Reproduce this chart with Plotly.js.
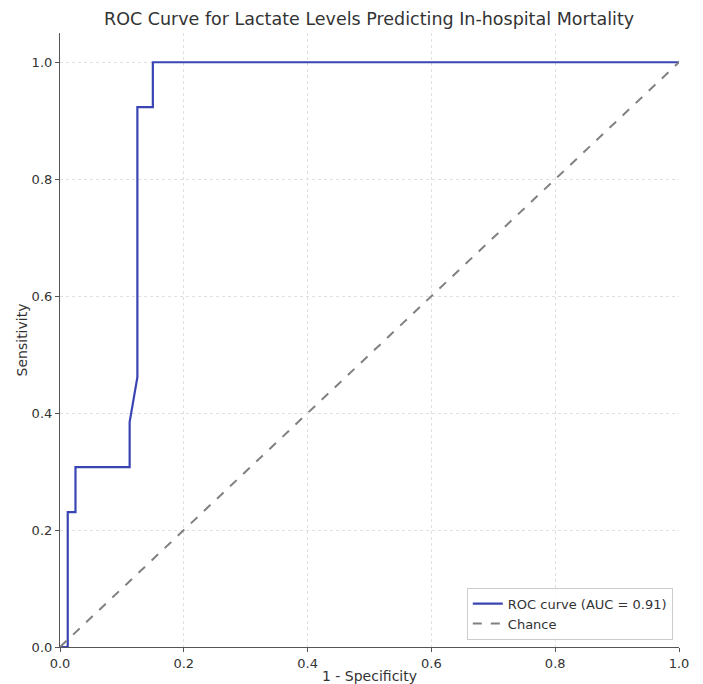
<!DOCTYPE html>
<html>
<head>
<meta charset="utf-8">
<script src="https://cdn.plot.ly/plotly-3.0.1.min.js"></script>
<style>html,body{margin:0;padding:0;background:#fff;}#chart{width:703px;height:684px;}</style>
</head>
<body>
<div id="chart"></div>
<script>
const fpr = [0, 0.0125, 0.0125, 0.025, 0.025, 0.1125, 0.1125, 0.125, 0.125, 0.15, 0.15, 1.0];
const tpr = [0, 0, 0.2308, 0.2308, 0.3077, 0.3077, 0.3846, 0.4615, 0.9231, 0.9231, 1.0, 1.0];
const chanceX = [0, 1];
const chanceY = [0, 1];
const xTicks = [0, 0.2, 0.4, 0.6, 0.8, 1.0];
const yTicks = [0, 0.2, 0.4, 0.6, 0.8, 1.0];
const tickText = ['0.0', '0.2', '0.4', '0.6', '0.8', '1.0'];

const traces = [
  {x: fpr, y: tpr, mode: 'lines', name: 'ROC curve (AUC = 0.91)',
   line: {color: '#3a45b3', width: 2.2}},
  {x: chanceX, y: chanceY, mode: 'lines', name: 'Chance',
   line: {color: '#808080', width: 2, dash: 'dash'}}
];

const axisCommon = {
  showline: true, linecolor: '#555', linewidth: 1.2,
  ticks: 'outside', ticklen: 4, tickcolor: '#555', tickwidth: 1,
  showgrid: true, gridcolor: '#e0e0e0', griddash: 'dot', gridwidth: 1,
  zeroline: false, tickfont: {family: 'DejaVu Sans', size: 13, color: '#333'},
  tickmode: 'array', ticktext: tickText, mirror: false
};

const layout = {
  width: 703, height: 684,
  margin: {l: 60, r: 24, t: 33, b: 37},
  paper_bgcolor: '#fff', plot_bgcolor: '#fff',
  title: {text: 'ROC Curve for Lactate Levels Predicting In-hospital Mortality',
          font: {family: 'DejaVu Sans', size: 17.5, color: '#333'},
          x: 0.525, xanchor: 'center', y: 0.972, yanchor: 'middle'},
  xaxis: Object.assign({}, axisCommon, {range: [0, 1], tickvals: xTicks,
          title: {text: '1 - Specificity', font: {family: 'DejaVu Sans', size: 14, color: '#333'}, standoff: 2}}),
  yaxis: Object.assign({}, axisCommon, {range: [0, 1.05], tickvals: yTicks,
          title: {text: 'Sensitivity', font: {family: 'DejaVu Sans', size: 14, color: '#333'}, standoff: 0}}),
  showlegend: true,
  legend: {x: 0.99, y: 0.012, xanchor: 'right', yanchor: 'bottom',
           bgcolor: 'rgba(255,255,255,0.9)', bordercolor: '#ccc', borderwidth: 1,
           font: {family: 'DejaVu Sans', size: 13, color: '#333'}, tracegroupgap: 0}
};

Plotly.newPlot('chart', traces, layout, {displayModeBar: false});
</script>
</body>
</html>
